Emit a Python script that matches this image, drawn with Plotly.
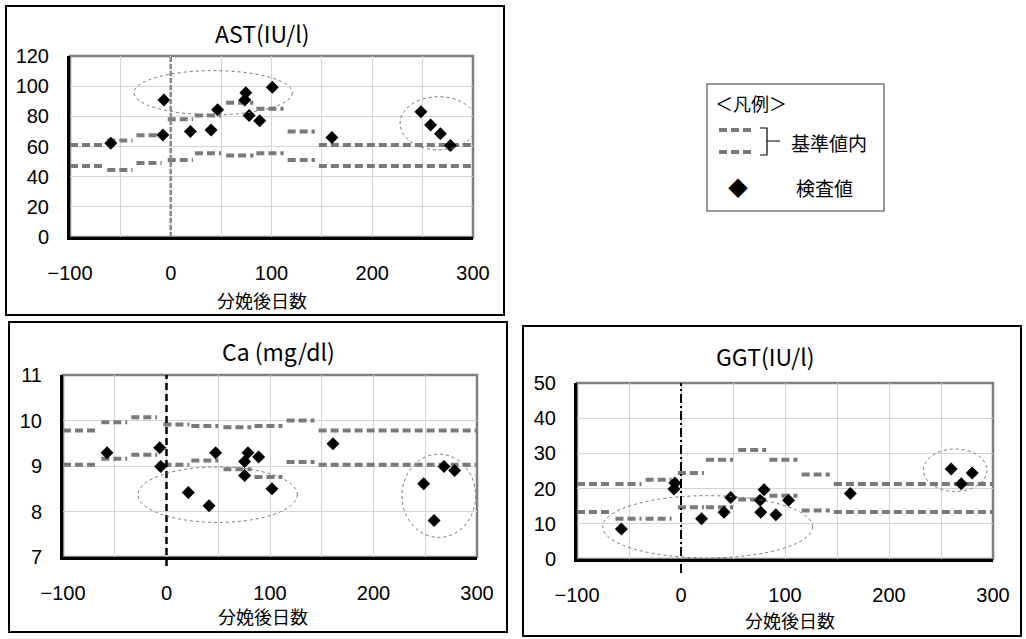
import plotly.graph_objects as go

W, H = 1026, 639

# ---------------- data ----------------
seg_start = [-100, -63, -34, -3, 24, 55, 85, 116, 147]
seg_end = [-67, -38, -9, 22, 50, 82, 112, 143, 300]

ast_upper = [61, 64, 67.5, 78, 80.5, 89, 85, 70, 61]
ast_lower = [47, 44.5, 49, 51, 55.5, 54, 55.5, 51, 47]
ast_days = [-59.5, -7.8, -6.8, 19.5, 40, 46.5, 74.5, 73.5, 77.8, 88.3, 100.8, 160, 248.3, 257.9, 267.7, 277.6]
ast_vals = [62.2, 67.7, 90.9, 70, 71, 84.3, 95.7, 90.9, 80.5, 77, 99.3, 66, 83, 74.3, 68.4, 60.7]

ca_upper = [9.78, 9.96, 10.07, 9.91, 9.88, 9.85, 9.88, 10.0, 9.78]
ca_lower = [9.03, 9.16, 9.25, 9.03, 9.12, 8.93, 8.76, 9.09, 9.03]
ca_days = [-57.5, -6.6, -5.6, 21.1, 41.1, 47.5, 75.5, 78.7, 75.5, 89, 101.9, 160.9, 248.5, 258.5, 268.1, 278.4]
ca_vals = [9.29, 9.40, 8.99, 8.42, 8.125, 9.29, 9.10, 9.29, 8.79, 9.2, 8.5, 9.49, 8.61, 7.80, 8.99, 8.90]

ggt_upper = [21.3, 21.3, 22.5, 24.4, 28.2, 31, 28.2, 24, 21.3]
ggt_lower = [13.35, 11.4, 11.4, 14.7, 14.7, 16.9, 18, 13.8, 13.35]
ggt_days = [-57.3, -6.8, -5.9, 19.8, 41.4, 47.8, 76.1, 76.7, 79.9, 91.2, 103.4, 162.8, 259.8, 269.5, 280]
ggt_vals = [8.5, 19.9, 21.6, 11.4, 13.3, 17.5, 16.7, 13.3, 19.7, 12.6, 16.7, 18.6, 25.6, 21.4, 24.4]

# highlight ellipses (x0, x1, y0, y1)
ast_ellipses = [(-36.5, 120.6, 81, 110.3), (227.6, 304, 57.8, 93)]
ca_ellipses = [(-27.5, 126.4, 7.76, 8.98), (227.5, 298.7, 7.43, 9.26)]
ggt_ellipses = [(-75.3, 126.5, 0.3, 18), (233.2, 294.2, 19.2, 31.25)]

titles = ["AST(IU/l)", "Ca (mg/dl)", "GGT(IU/l)"]
x_title = "分娩後日数"
x_ticks = [-100, 0, 100, 200, 300]

# ---------------- layout helpers ----------------
def px(x):
    return x / W

def py(y):
    return 1 - y / H

panels = [
    dict(ax="", xd=(70, 473), yd=(56, 237), yr=(0, 120), ydt=20, upper=ast_upper, lower=ast_lower,
         days=ast_days, vals=ast_vals, ell=ast_ellipses, title=titles[0], tpos=(262, 33),
         xtpos=(262, 300), box=(6, 6, 504, 315), vline=dict(color="#8a8a8a", dash="5px,2px", width=2.5, ext=0.0)),
    dict(ax="2", xd=(63, 477), yd=(375, 557), yr=(7, 11), ydt=1, upper=ca_upper, lower=ca_lower,
         days=ca_days, vals=ca_vals, ell=ca_ellipses, title=titles[1], tpos=(278, 351),
         xtpos=(263, 616), box=(9, 322, 507, 632), vline=dict(color="black", dash="7px,4px", width=2.5, ext=0.05)),
    dict(ax="3", xd=(577, 993), yd=(383, 559), yr=(0, 50), ydt=10, upper=ggt_upper, lower=ggt_lower,
         days=ggt_days, vals=ggt_vals, ell=ggt_ellipses, title=titles[2], tpos=(765, 356),
         xtpos=(790, 620), box=(523, 326, 1021, 636), vline=dict(color="black", dash="9px,3px,2px,3px", width=2, ext=0.08)),
]

tick_font = dict(family="Liberation Sans, Arial, sans-serif", size=20, color="black")
cjk = "Noto Sans CJK JP, sans-serif"
ref_color = "#7a7a7a"

fig = go.Figure()
shapes = []
annotations = []
layout = {}

for p in panels:
    a = p["ax"]
    xref, yref = "x" + a, "y" + a
    # reference lines
    for arr in (p["upper"], p["lower"]):
        xs, ys = [], []
        for s, e, v in zip(seg_start, seg_end, arr):
            xs += [s, e, None]
            ys += [v, v, None]
        fig.add_trace(go.Scatter(x=xs, y=ys, xaxis=xref, yaxis=yref, mode="lines",
                                 line=dict(color=ref_color, width=4, dash="8px,4px"),
                                 showlegend=False, hoverinfo="skip"))
    # measured values
    fig.add_trace(go.Scatter(x=p["days"], y=p["vals"], xaxis=xref, yaxis=yref, mode="markers",
                             marker=dict(symbol="diamond", size=10, color="black"),
                             showlegend=False))
    xa = dict(domain=[px(p["xd"][0]), px(p["xd"][1])], range=[-100, 300], tickvals=x_ticks,
              showgrid=True, gridcolor="#d4d4d4", gridwidth=1,
              minor=dict(dtick=50, tick0=-100, showgrid=True, gridcolor="#d4d4d4", gridwidth=1),
              zeroline=False, showline=True, linecolor="black", linewidth=3,
              ticks="outside", ticklen=16, tickcolor="rgba(0,0,0,0)",
              tickfont=tick_font, anchor=yref, fixedrange=True, automargin=False)
    ya = dict(domain=[py(p["yd"][1]), py(p["yd"][0])], range=list(p["yr"]), dtick=p["ydt"],
              showgrid=True, gridcolor="#d4d4d4", gridwidth=1, zeroline=False,
              showline=True, linecolor="black", linewidth=3,
              ticks="outside", ticklen=14, tickcolor="rgba(0,0,0,0)",
              tickfont=tick_font, anchor=xref, fixedrange=True, automargin=False)
    layout["xaxis" + a] = xa
    layout["yaxis" + a] = ya
    # grey frame for plot area (top/right)
    shapes.append(dict(type="rect", xref=xref + " domain", yref=yref + " domain", x0=0, x1=1, y0=0, y1=1,
                       line=dict(color="#808080", width=2.5), layer="below"))
    # vertical line at day 0
    v = p["vline"]
    shapes.append(dict(type="line", xref=xref, yref=yref + " domain", x0=0, x1=0, y0=-v["ext"], y1=1,
                       line=dict(color=v["color"], width=v["width"], dash=v["dash"])))
    # ellipses
    for (x0, x1, y0, y1) in p["ell"]:
        shapes.append(dict(type="circle", xref=xref, yref=yref, x0=x0, x1=x1, y0=y0, y1=y1,
                           line=dict(color="#777777", width=1, dash="dot")))
    # outer box
    bx0, by0, bx1, by1 = p["box"]
    shapes.append(dict(type="rect", xref="paper", yref="paper", x0=px(bx0), x1=px(bx1), y0=py(by1), y1=py(by0),
                       line=dict(color="black", width=2)))
    # titles
    annotations.append(dict(text=p["title"], xref="paper", yref="paper", x=px(p["tpos"][0]), y=py(p["tpos"][1]),
                            showarrow=False, xanchor="center", yanchor="middle",
                            font=dict(family=cjk, size=23, color="black")))
    annotations.append(dict(text=x_title, xref="paper", yref="paper", x=px(p["xtpos"][0]), y=py(p["xtpos"][1]),
                            showarrow=False, xanchor="center", yanchor="middle",
                            font=dict(family=cjk, size=18, color="black")))

# ---------------- legend box ----------------
shapes.append(dict(type="rect", xref="paper", yref="paper", x0=px(707), x1=px(884), y0=py(211), y1=py(84),
                   line=dict(color="#7a7a7a", width=1.5)))
for yy in (130, 152):
    shapes.append(dict(type="line", xref="paper", yref="paper", x0=px(719), x1=px(754), y0=py(yy), y1=py(yy),
                       line=dict(color=ref_color, width=4, dash="8px,4px")))
# bracket
brace = (f"M {px(760)},{py(128)} L {px(767)},{py(128)} L {px(767)},{py(155)} L {px(760)},{py(155)} "
         f"M {px(767)},{py(141)} L {px(780)},{py(141)}")
shapes.append(dict(type="path", xref="paper", yref="paper", path=brace, line=dict(color="black", width=1.2)))
annotations.append(dict(text="＜凡例＞", xref="paper", yref="paper", x=px(713), y=py(103), xanchor="left",
                        yanchor="middle", showarrow=False, font=dict(family=cjk, size=18, color="black")))
annotations.append(dict(text="基準値内", xref="paper", yref="paper", x=px(789), y=py(142), xanchor="left",
                        yanchor="middle", showarrow=False, font=dict(family=cjk, size=19, color="black")))
annotations.append(dict(text="◆", xref="paper", yref="paper", x=px(738), y=py(187), xanchor="center",
                        yanchor="middle", showarrow=False, font=dict(family=cjk, size=20, color="black")))
annotations.append(dict(text="検査値", xref="paper", yref="paper", x=px(794), y=py(187), xanchor="left",
                        yanchor="middle", showarrow=False, font=dict(family=cjk, size=19, color="black")))

fig.update_layout(template="none", width=W, height=H, autosize=False, margin=dict(l=0, r=0, t=0, b=0, pad=0),
                  paper_bgcolor="white", plot_bgcolor="white", showlegend=False,
                  shapes=shapes, annotations=annotations, **layout)

fig.write_html("out.html", config={"displayModeBar": False},
               post_script="document.body.style.margin='0';document.body.style.overflow='hidden';")
